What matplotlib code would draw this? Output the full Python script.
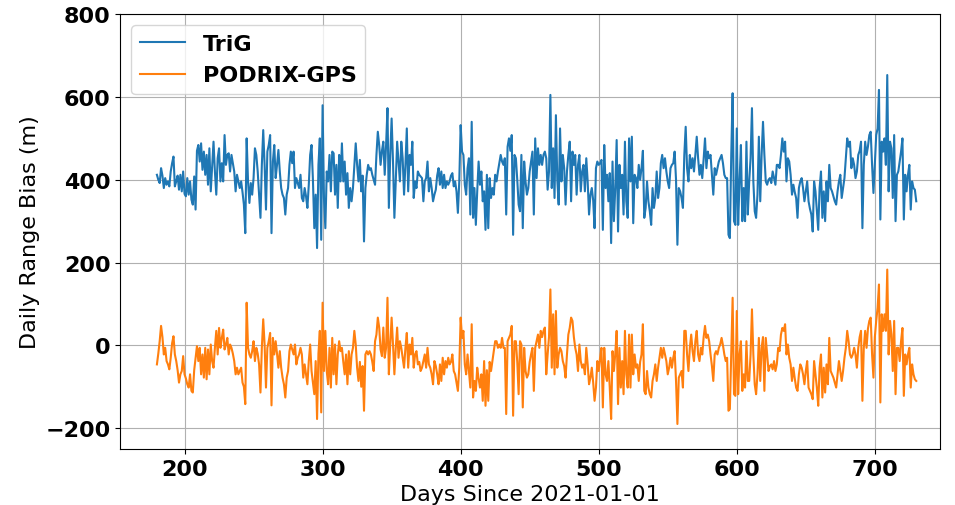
import matplotlib
matplotlib.use("Agg")
import matplotlib.pyplot as plt
import numpy as np

# days since 2021-01-01 (one point per day)
first_day = 180
last_day = 730

trig_bias = [
    412, 400, 392, 428, 410, 380, 404, 388, 396, 384, 420, 440, 456, 384, 396, 410, 376, 412, 372, 420,
    366, 360, 404, 364, 396, 352, 340, 408, 328, 470, 484, 444, 488, 424, 468, 412, 460, 388, 476, 372,
    430, 492, 420, 364, 452, 476, 396, 440, 396, 508,
    436, 460, 464, 420, 460, 440, 420, 372, 412, 396, 380, 396, 370, 340, 271, 500, 396, 344, 392, 364,
    404, 476, 460, 420, 364, 308, 436, 520, 436, 328, 468, 484, 508, 271, 444, 484, 404, 436, 472, 420,
    380, 364, 356, 316, 364, 380, 436, 468, 440, 468,
    380, 404, 392, 380, 412, 356, 348, 380, 360, 332, 388, 460, 484, 400, 283, 364, 235, 436, 500, 255,
    580, 356, 283, 420, 396, 460, 372, 468, 464, 364, 436, 332, 460, 396, 488, 396, 444, 364, 416, 332,
    380, 348, 380, 436, 488, 436, 396, 448, 372, 410,
    251, 380, 412, 436, 424, 428, 412, 400, 388, 460, 516, 484, 436, 470, 492, 412, 484, 573, 332, 460,
    548, 444, 308, 396, 492, 444, 396, 492, 452, 364, 436, 524, 372, 460, 436, 492, 356, 396, 380, 420,
    412, 408, 404, 348, 396, 404, 444, 372, 404, 380,
    348, 364, 376, 410, 428, 388, 420, 380, 412, 380, 396, 388, 396, 410, 416, 384, 396, 372, 320, 396,
    532, 468, 460, 388, 364, 428, 452, 316, 540, 308, 380, 291, 372, 444, 388, 420, 348, 372, 279, 412,
    283, 404, 356, 380, 364, 412, 396, 420, 440, 460,
    444, 436, 452, 316, 480, 500, 470, 508, 267, 460, 452, 400, 340, 324, 460, 283, 444, 396, 364, 380,
    420, 444, 468, 316, 500, 404, 476, 436, 460, 436, 460, 468, 452, 376, 420, 605, 380, 476, 356, 556,
    400, 340, 524, 396, 460, 428, 340, 420, 460, 492,
    348, 468, 436, 460, 364, 436, 460, 372, 420, 436, 372, 452, 396, 316, 364, 380, 350, 283, 428, 444,
    436, 440, 448, 279, 484, 380, 412, 348, 416, 247, 444, 300, 380, 496, 275, 436, 380, 412, 316, 492,
    348, 308, 500, 396, 504, 295, 412, 404, 380, 436,
    400, 428, 470, 308, 332, 396, 348, 324, 291, 380, 332, 356, 420, 356, 380, 440, 460, 428, 452, 420,
    396, 380, 428, 436, 440, 468, 400, 243, 380, 372, 356, 332, 460, 528, 428, 396, 460, 428, 452, 420,
    460, 504, 452, 412, 436, 404, 450, 500, 428, 468,
    452, 460, 410, 364, 428, 412, 428, 444, 452, 460, 440, 412, 404, 404, 267, 259, 460, 609, 300, 291,
    524, 291, 396, 484, 300, 380, 300, 492, 316, 396, 452, 573, 396, 324, 308, 364, 504, 348, 460, 540,
    460, 396, 388, 400, 404, 392, 420, 404, 388, 436,
    436, 428, 460, 500, 468, 492, 396, 452, 444, 412, 364, 388, 370, 356, 308, 380, 396, 404, 380, 348,
    372, 396, 348, 330, 316, 275, 396, 372, 324, 279, 380, 420, 308, 372, 300, 396, 348, 436, 380, 372,
    360, 348, 340, 372, 396, 412, 356, 380, 404, 452,
    500, 480, 492, 428, 452, 436, 404, 420, 460, 470, 492, 283, 436, 492, 460, 480, 508, 516, 436, 368,
    440, 508, 524, 617, 304, 492, 468, 500, 436, 653, 372, 492, 476, 356, 508, 300, 412, 420, 444, 468,
    500, 304, 412, 372, 412, 436, 328, 396, 380, 376, 348,
]

podrix_bias = [
    -46, -20, 10, 47, 20, -22, -6, -38, -46, -58, -30, 5, 22, -22, -38, -60, -90, -70, -62, -26,
    -70, -80, -94, -102, -70, -110, -114, -60, -30, -2, -38, -6, -70, -22, -78, -6, -82, -10, -70, 2,
    -38, -54, -6, 35, -22, 42, -6, 18, 38, -10,
    2, 18, -22, 2, -6, -20, -38, -70, -54, -70, -62, -54, -90, -100, -142, 103, -6, -22, -30, -14,
    10, -38, -6, -20, -46, -114, -6, 63, 2, -102, -6, 10, 30, -145, 18, -22, 10, -20, -54, -14,
    -54, -78, -94, -126, -78, -62, -14, 2, -10, -22,
    2, -46, -30, -22, -6, -22, -78, -46, -70, -94, -38, 2, -62, -90, -118, -38, -178, -20, 35, -162,
    103, -62, 35, -62, -94, -6, -102, 18, -70, 2, -94, -22, 10, -14, -6, -40, -70, -22, -94, -14,
    -70, -22, -6, 35, 2, -54, -86, -40, -100, -50,
    -158, -22, -14, -22, -14, -22, -40, -62, 10, 26, 67, 43, -10, -26, 43, -30, -6, 115, -70, 2,
    67, 2, -70, -6, 43, -30, 10, -6, -30, -54, -6, 30, -54, 2, -22, 18, -54, -22, -14, -46,
    -40, -62, -54, -38, -22, -54, -6, -46, -54, -70,
    -94, -38, -50, -70, -94, -46, -86, -30, -70, -38, -54, -30, -46, -40, -22, -62, -70, -90, -110, -54,
    67, 18, 35, -46, -70, -22, -62, -102, 51, -126, -86, -110, -54, -80, -102, -70, -134, -38, -146, -60,
    -134, -40, -62, -38, -14, 10, 10, -6, 2, -6,
    18, -6, -6, -166, 10, 18, 26, 47, -170, 10, 10, -40, -118, 10, 2, -150, -6, -62, -78, -70,
    -40, -22, -6, -110, -6, 10, 26, -6, 35, 20, 35, 43, -70, -22, 20, 135, -54, 75, -70, 83,
    -54, -22, -6, -14, -38, -50, -78, -22, 26, 42,
    67, 59, 20, -6, -22, -62, 2, -38, -54, -46, -70, -6, -46, -94, -78, -54, -90, -134, -102, -38,
    -62, -30, -6, -150, -6, -70, -86, -38, -102, -178, -14, -62, -20, 35, -142, -6, -102, -38, -118, 35,
    -70, -102, 26, -102, 26, -70, -22, -54, -46, -86,
    -40, -22, 51, -110, -118, -62, -102, -118, -126, -86, -70, -46, -86, -54, -30, -6, -30, -6, -22, -38,
    -70, -54, -30, -54, -30, -14, -86, -190, -78, -70, -62, -102, 35, 35, -22, -62, -6, 26, -14, -38,
    10, 35, -22, -38, -6, -22, 20, 47, 18, 26,
    10, -22, -50, -86, -22, -14, -22, -6, 2, 18, 0, -22, -38, -30, -158, -154, -22, 115, -118, -122,
    83, -118, -22, 10, -110, -70, -102, 10, -86, -86, -22, 87, -22, -94, -118, -70, 18, -86, -6, 20,
    -110, 18, -22, -62, -50, -46, -58, -38, -62, -46,
    -6, -14, 26, 42, 35, 51, -22, 2, -30, -46, -86, -54, -80, -102, -110, -70, -46, -54, -70, -94,
    -62, -38, -102, -110, -118, -130, -38, -70, -102, -146, -54, -22, -126, -54, -114, -46, -94, 18, -62, -70,
    -78, -90, -102, -70, -38, -62, -86, -62, -30, -6,
    35, 10, -22, -30, -22, -6, -22, -54, -6, 20, 35, -134, -6, 35, -6, 40, 59, 67, -22, -78,
    20, 59, 91, 147, -138, 75, 35, 75, 35, 183, -22, 59, 26, -62, 59, -118, -6, -6, -38, 10,
    42, -122, -22, -46, -22, -6, -102, -46, -70, -82, -86,
]

days = np.arange(first_day, last_day + 1)

fig = plt.figure(figsize=(9.55, 5.06), dpi=100)
ax = fig.add_axes([0.126, 0.111, 0.858, 0.859])

ax.plot(days, trig_bias, color='#1f77b4', lw=1.5, label='TriG')
ax.plot(days, podrix_bias, color='#ff7f0e', lw=1.5, label='PODRIX-GPS')

ax.set_xlim(153.5, 747)
ax.set_ylim(-250, 800)
ax.set_xticks([200, 300, 400, 500, 600, 700])
ax.set_yticks([-200, 0, 200, 400, 600, 800])
ax.grid(True)

for lab in ax.get_xticklabels() + ax.get_yticklabels():
    lab.set_fontweight('bold')
    lab.set_fontsize(16)

ax.set_xlabel('Days Since 2021-01-01', fontsize=16)
ax.set_ylabel('Daily Range Bias (m)', fontsize=16)
ax.legend(loc='upper left', prop={'weight': 'bold', 'size': 16})

fig.savefig('out.png', dpi=100)
